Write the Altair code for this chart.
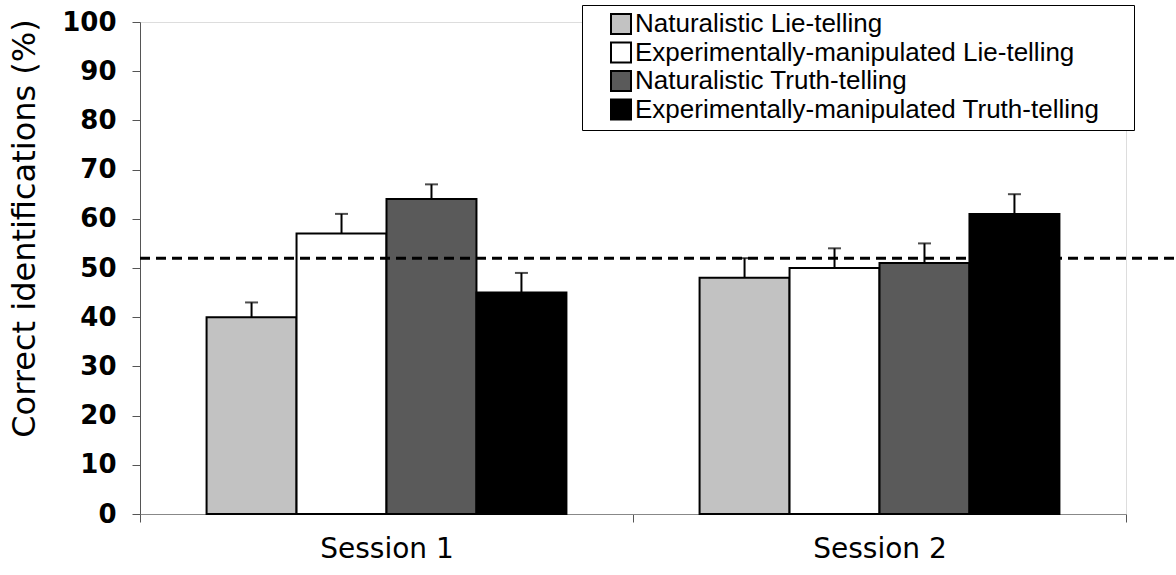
import altair as alt
import pandas as pd

sessions = ["Session 1", "Session 2"]
conditions = [
    "Naturalistic Lie-telling",
    "Experimentally-manipulated Lie-telling",
    "Naturalistic Truth-telling",
    "Experimentally-manipulated Truth-telling",
]
colors = ["#c2c2c2", "#ffffff", "#5a5a5a", "#000000"]
session1_values = [40, 57, 64, 45]
session2_values = [48, 50, 51, 61]
session1_upper = [43, 61, 67, 49]
session2_upper = [52, 54, 55, 65]
chance_level = [52]

rows = []
for s, vals, ups in [(sessions[0], session1_values, session1_upper),
                     (sessions[1], session2_values, session2_upper)]:
    for c, v, u in zip(conditions, vals, ups):
        rows.append({"session": s, "condition": c, "value": v, "upper": u})
df = pd.DataFrame(rows)

W, H = 986, 492

x = alt.X("session:N", sort=sessions,
          scale=alt.Scale(paddingInner=0, paddingOuter=0),
          axis=alt.Axis(title=None, tickBand="extent", labelAngle=0, labelAlign="center",
                        labelFont="DejaVu Sans", labelFontSize=28, labelColor="black",
                        tickSize=8, labelPadding=27, domainColor="#888888",
                        tickColor="#555555", grid=False))
xoff = alt.XOffset("condition:N", sort=conditions,
                   scale=alt.Scale(paddingInner=0, paddingOuter=0.74))
y = alt.Y("value:Q", scale=alt.Scale(domain=[0, 100]),
          axis=alt.Axis(title="Correct identifications (%)", values=list(range(0, 101, 10)),
                        labelFont="DejaVu Sans", labelFontWeight="bold", labelFontSize=26,
                        labelColor="black", tickSize=8, labelPadding=16,
                        domainColor="#555555", tickColor="#555555", grid=False,
                        titleFont="DejaVu Sans", titleFontSize=32, titleFontWeight="normal",
                        titleColor="black", titleX=-99, titleY=206))

color = alt.Color("condition:N", sort=conditions,
                  scale=alt.Scale(domain=conditions, range=colors),
                  legend=alt.Legend(title="\u00a0", titleOrient="right", titlePadding=29,
                                    titleFontSize=2,
                                    orient="none", legendX=442, legendY=-17,
                                    symbolType="square", symbolSize=400,
                                    symbolStrokeColor="black", symbolStrokeWidth=2,
                                    symbolOffset=20,
                                    labelFont="Liberation Sans", labelFontSize=26,
                                    labelColor="black", rowPadding=0.5, labelOffset=1,
                                    padding=6, strokeColor="black", fillColor="white",
                                    labelLimit=800))

bars = alt.Chart(df).mark_bar(stroke="black", strokeWidth=2).encode(
    x=x, xOffset=xoff, y=y, color=color)

err = alt.Chart(df).mark_rule(color="black", strokeWidth=2).encode(
    x=alt.X("session:N", sort=sessions), xOffset=xoff,
    y="value:Q", y2="upper:Q")
caps = alt.Chart(df).mark_tick(color="black", orient="horizontal", size=13, thickness=2).encode(
    x=alt.X("session:N", sort=sessions), xOffset=xoff, y="upper:Q")

chance = alt.Chart(pd.DataFrame({"chance": chance_level})).mark_rule(
    color="black", strokeWidth=3, strokeDash=[10, 6], clip=False).encode(
    y="chance:Q", x=alt.value(0), x2=alt.value(W + 50))

chart = alt.layer(err, bars, caps, chance).properties(
    width=W, height=H,
    autosize=alt.AutoSizeParams(type="none"),
    padding={"left": 140, "top": 22, "right": 50, "bottom": 61},
).configure_view(stroke=None).configure(background="white")

chart.save("out.html", embed_options={"renderer": "svg", "actions": False})
